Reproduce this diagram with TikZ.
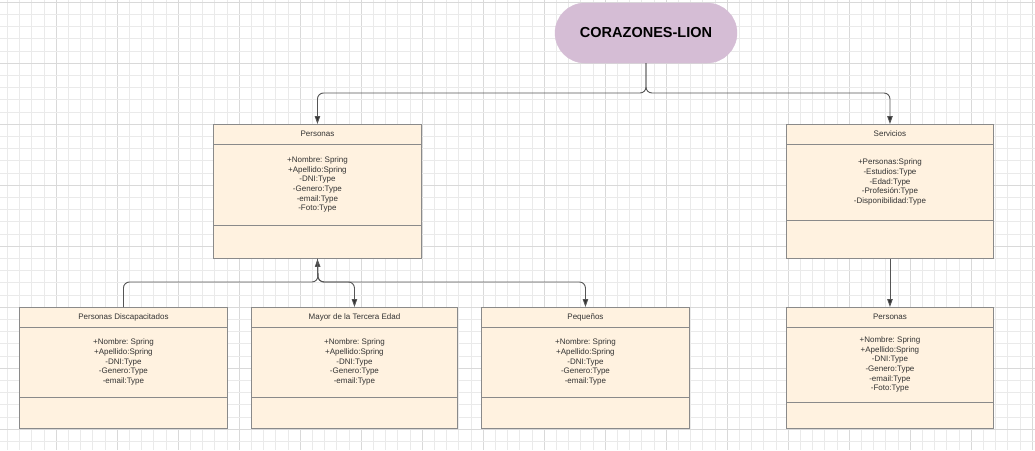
\documentclass[tikz,border=0pt]{standalone}
\usepackage{fontspec}
\setmainfont{Liberation Sans}
\frenchspacing
\usetikzlibrary{calc,arrows.meta}
\definecolor{boxfill}{HTML}{FFF2E0}
\definecolor{boxline}{HTML}{8A8A8A}
\definecolor{pillfill}{HTML}{D5BDD5}
\definecolor{txt}{HTML}{333333}
\definecolor{conncol}{HTML}{555555}
\definecolor{gridminor}{HTML}{EAEAEA}
\definecolor{gridmajor}{HTML}{D9D9D9}
\tikzset{
  box/.style={draw=boxline, fill=boxfill, line width=0.9pt, rectangle, inner sep=0pt},
  divline/.style={draw=boxline, line width=0.9pt},
  titletext/.style={font=\fontsize{8}{9.7}\selectfont, text=txt, inner sep=0pt},
  attrtext/.style={font=\fontsize{8}{9.7}\selectfont, text=txt, align=center, inner sep=0pt},
  pill/.style={fill=pillfill, draw=pillfill, rounded corners=30pt, minimum width=182pt, minimum height=60pt, font=\fontsize{14.5}{16}\selectfont\bfseries, text=black},
  conn/.style={draw=conncol, line width=0.9pt, rounded corners=6pt},
  tip/.style={-{Triangle[length=8pt,width=5.5pt,fill=txt]}}
}
\newcommand{\umlbox}[8]{%
  \node[box, minimum width=#4pt, minimum height=#5pt, anchor=north west] (#1) at (#2,#3) {};
  \draw[divline] ($(#1.north west)+(0,20)$) -- ($(#1.north east)+(0,20)$);
  \draw[divline] ($(#1.north west)+(0,#6)$) -- ($(#1.north east)+(0,#6)$);
  \node[titletext] (#1-t) at ($(#1.north)+(0,10)$) {#7};
  \node[attrtext] (#1-a) at ($(#1.north)+(0,{(20+#6)/2})$) {#8};
}
\begin{document}
\begin{tikzpicture}[x=1pt,y=-1pt]
\useasboundingbox (0,0) rectangle (1035,450);
\fill[white] (0,0) rectangle (1035,450);
% grid
\foreach \i in {0,...,84} {
  \pgfmathtruncatemacro\m{mod(\i,5)}
  \ifnum\m=4 \draw[gridmajor,line width=0.9pt] (7.5+12.2*\i,0) -- (7.5+12.2*\i,450);
  \else \draw[gridminor,line width=0.9pt] (7.5+12.2*\i,0) -- (7.5+12.2*\i,450); \fi
}
\foreach \i in {0,...,36} {
  \pgfmathtruncatemacro\m{mod(\i,5)}
  \ifnum\m=0 \draw[gridmajor,line width=0.9pt] (0,2.3+12.2*\i) -- (1035,2.3+12.2*\i);
  \else \draw[gridminor,line width=0.9pt] (0,2.3+12.2*\i) -- (1035,2.3+12.2*\i); \fi
}
% pill
\node[pill] (root) at (646,33) {CORAZONES-LION};
% boxes
\umlbox{personas}{213}{124}{208}{134}{101}{Personas}{+Nombre: Spring\\+Apellido:Spring\\-DNI:Type\\-Genero:Type\\-email:Type\\-Foto:Type}
\umlbox{servicios}{786}{124}{207}{134}{96}{Servicios}{+Personas:Spring\\-Estudios:Type\\-Edad:Type\\-Profesión:Type\\-Disponibilidad:Type}
\umlbox{disc}{19}{307}{208}{121}{90}{Personas Discapacitados}{+Nombre: Spring\\+Apellido:Spring\\-DNI:Type\\-Genero:Type\\-email:Type}
\umlbox{mayor}{251}{307}{206}{121}{90}{Mayor de la Tercera Edad}{+Nombre: Spring\\+Apellido:Spring\\-DNI:Type\\-Genero:Type\\-email:Type}
\umlbox{peq}{481}{307}{208}{121}{90}{Pequeños}{+Nombre: Spring\\+Apellido:Spring\\-DNI:Type\\-Genero:Type\\-email:Type}
\umlbox{personas2}{786}{307}{207}{121}{95}{Personas}{+Nombre: Spring\\+Apellido:Spring\\-DNI:Type\\-Genero:Type\\-email:Type\\-Foto:Type}
% junction coordinates
\coordinate (jtop) at (646,93);
\coordinate (jbot) at (318,282);
% connectors
\draw[conn,tip] (root.south) -- (root.south |- jtop) -| (personas.north);
\draw[conn,tip] (root.south) -- (root.south |- jtop) -| (servicios.north);
\draw[conn,tip] (disc.north) |- (jbot) -- (personas.south);
\draw[conn,tip] (personas.south) -- (jbot) -| (mayor.north);
\draw[conn,tip] (personas.south) -- (jbot) -| (peq.north);
\draw[conn,tip] (servicios.south) -- (personas2.north);
\end{tikzpicture}
\end{document}
